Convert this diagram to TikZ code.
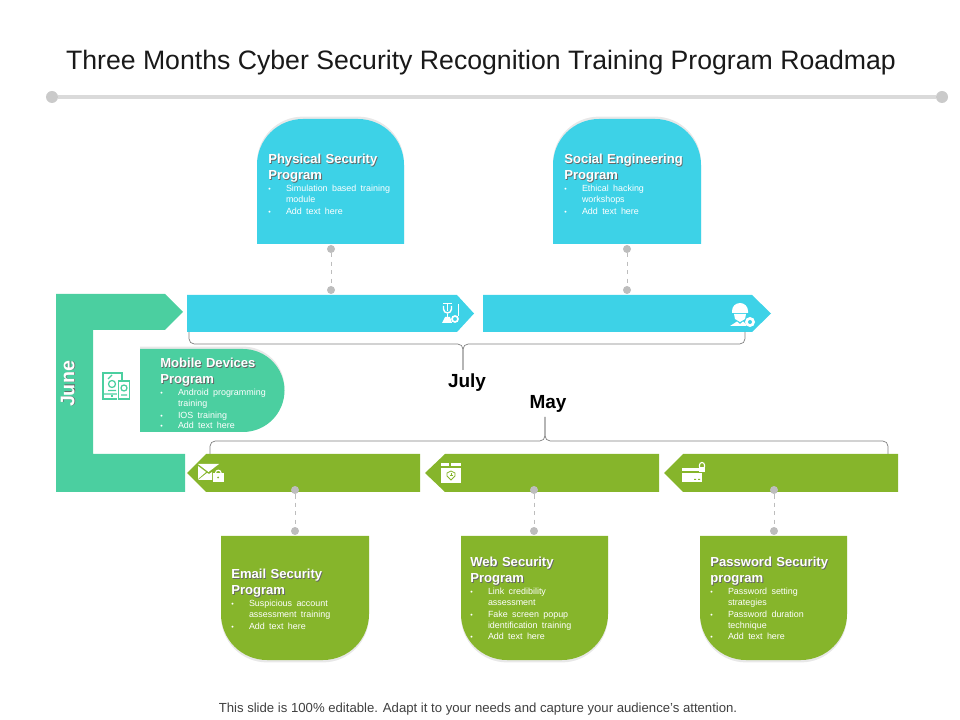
\documentclass[tikz,border=0pt]{standalone}
\usepackage{fontspec}
\setmainfont{Liberation Sans}
\usetikzlibrary{shadows}

\definecolor{skyband}{HTML}{3DD2E7}
\definecolor{tealband}{HTML}{4BCFA0}
\definecolor{greenband}{HTML}{86B52B}
\definecolor{dotgray}{HTML}{BDBDBD}
\definecolor{rulegray}{HTML}{DADADA}

\newcommand{\cardhead}[1]{\leavevmode\rlap{\raisebox{-0.6pt}{\hspace{0.6pt}\textcolor{black!60}{\bfseries #1}}}{\bfseries #1}}
\newcommand{\carditem}[1]{{\par\vskip-0.7pt\fontsize{6.35}{7.85}\selectfont\noindent\hbox to 12.6pt{\fontsize{5}{5}\selectfont\textbullet\hfil}\begin{tabular}[t]{@{}l@{}}#1\end{tabular}\par}}

\tikzset{
    connect dot/.style={circle, fill=dotgray, inner sep=0pt, minimum size=0.2cm},
    connect line/.style={draw=dotgray, dashed, line width=0.5pt},
    rule dot/.style={circle, fill=dotgray!80, inner sep=0pt, minimum size=0.3cm},
    bracket line/.style={draw=black!50, line width=0.5pt, rounded corners=0.13cm},
    card text/.style={anchor=north west, inner sep=0pt, text=white, text width=#1, align=left, font=\fontsize{9.3}{11.4}\selectfont},
    month label/.style={font=\fontsize{13.5}{16}\selectfont\bfseries, inner sep=0pt},
    card shadow/.style={drop shadow={shadow xshift=0cm, shadow yshift=#1, fill=black, opacity=0.09}}
}

\begin{document}
\begin{tikzpicture}[x=0.025cm, y=-0.025cm]
    \useasboundingbox (0, 0) rectangle (960, 720);

    % Draw title and rule
    \node (title) at (481, 62.5) [font=\fontsize{18.95}{22}\selectfont, text=black!90, inner sep=0pt] {Three Months Cyber Security Recognition Training Program Roadmap};
    \node (ruleleft) at (52, 97) [rule dot] {};
    \node (ruleright) at (942, 97) [rule dot] {};
    \draw[rulegray, line width=3pt] (ruleleft) -- (ruleright);

    % Draw june band
    \fill[tealband] (56, 294) -- (165, 294) -- (183, 312) -- (165, 330) -- (93, 330) -- (93, 454) -- (185, 454) -- (185, 492) -- (56, 492) -- cycle;
    \node (june) at (68, 384) [rotate=90, text=white, font=\fontsize{14}{16}\selectfont, inner sep=0pt] {\cardhead{June}};

    % Draw july bands
    \fill[skyband] (187, 295) -- (457, 295) -- (474, 313.5) -- (457, 332) -- (187, 332) -- cycle;
    \fill[skyband] (483, 295) -- (752, 295) -- (771, 313.5) -- (752, 332) -- (483, 332) -- cycle;

    % Draw may bands
    \fill[greenband] (187, 473) -- (206, 454) -- (420, 454) -- (420, 492) -- (206, 492) -- cycle;
    \fill[greenband] (425, 473) -- (445, 454) -- (659, 454) -- (659, 492) -- (445, 492) -- cycle;
    \fill[greenband] (664, 473) -- (683, 454) -- (898, 454) -- (898, 492) -- (683, 492) -- cycle;

    % Draw cards
    \fill[skyband, card shadow=0.06cm] (257, 244) -- (257, 165) arc (180:270:46) -- (358, 119) arc (270:360:46) -- (404, 244) -- cycle;
    \fill[skyband, card shadow=0.06cm] (553, 244) -- (553, 165) arc (180:270:46) -- (655, 119) arc (270:360:46) -- (701, 244) -- cycle;
    \fill[tealband, card shadow=0.06cm] (140, 349) -- (243, 349) arc (-90:90:41.5) -- (140, 432) -- cycle;
    \fill[greenband, card shadow=-0.06cm] (221, 536) -- (369, 536) -- (369, 614) arc (0:90:46) -- (267, 660) arc (90:180:46) -- cycle;
    \fill[greenband, card shadow=-0.06cm] (461, 536) -- (608, 536) -- (608, 614) arc (0:90:46) -- (507, 660) arc (90:180:46) -- cycle;
    \fill[greenband, card shadow=-0.06cm] (700, 536) -- (847, 536) -- (847, 614) arc (0:90:46) -- (746, 660) arc (90:180:46) -- cycle;

    % Draw card texts
    \node (physicaltext) at (268, 154) [card text=4cm] {\cardhead{Physical Security}\\\cardhead{Program}\carditem{Simulation based training\\module}\carditem{Add text here}};
    \node (socialtext) at (564, 154) [card text=4cm] {\cardhead{Social Engineering}\\\cardhead{Program}\carditem{Ethical hacking\\workshops}\carditem{Add text here}};
    \node (mobiletext) at (160, 358) [card text=4cm] {\cardhead{Mobile Devices}\\\cardhead{Program}\carditem{Android programming\\training}\carditem{IOS training}\carditem{Add text here}};
    \node (emailtext) at (231, 569) [card text=4cm] {\cardhead{Email Security}\\\cardhead{Program}\carditem{Suspicious account\\assessment training}\carditem{Add text here}};
    \node (webtext) at (470, 557) [card text=4cm] {\cardhead{Web Security}\\\cardhead{Program}\carditem{Link credibility\\assessment}\carditem{Fake screen popup\\identification training}\carditem{Add text here}};
    \node (passwordtext) at (710, 557) [card text=4cm] {\cardhead{Password Security}\\\cardhead{program}\carditem{Password setting\\strategies}\carditem{Password duration\\technique}\carditem{Add text here}};

    % Draw dots and dashed links
    \node (physicaltop) at (331, 249) [connect dot] {};
    \node (physicalbottom) at (331, 290) [connect dot] {};
    \node (socialtop) at (627, 249) [connect dot] {};
    \node (socialbottom) at (627, 290) [connect dot] {};
    \node (emailtop) at (295, 490) [connect dot] {};
    \node (emailbottom) at (295, 531) [connect dot] {};
    \node (webtop) at (534, 490) [connect dot] {};
    \node (webbottom) at (534, 531) [connect dot] {};
    \node (passwordtop) at (774, 490) [connect dot] {};
    \node (passwordbottom) at (774, 531) [connect dot] {};
    \draw[connect line] (physicaltop) -- (physicalbottom);
    \draw[connect line] (socialtop) -- (socialbottom);
    \draw[connect line] (emailtop) -- (emailbottom);
    \draw[connect line] (webtop) -- (webbottom);
    \draw[connect line] (passwordtop) -- (passwordbottom);

    % Draw brackets
    \coordinate (julyleft) at (189, 332);
    \coordinate (julyright) at (745, 332);
    \coordinate (julymid) at (463, 344);
    \coordinate (julystem) at (463, 370);
    \draw[bracket line] (julyleft) |- (julymid) -- (julystem);
    \draw[bracket line] (julyright) |- (julymid) -- (julystem);
    \coordinate (mayleft) at (210, 454);
    \coordinate (mayright) at (888, 454);
    \coordinate (maymid) at (545, 441);
    \coordinate (maystem) at (545, 417);
    \draw[bracket line] (mayleft) |- (maymid) -- (maystem);
    \draw[bracket line] (mayright) |- (maymid) -- (maystem);

    % Draw month labels
    \node (july) at (467, 383) [month label] {July};
    \node (may) at (548, 404) [month label] {May};

    % Draw pulley icon
    \draw[white, line width=0.7pt] (443, 303) -- (452, 303) (447.5, 303) -- (447.5, 311) (458, 304) -- (458, 316) (447.5, 314) -- (447.5, 318);
    \draw[white, line width=1pt] (443.5, 306) -- (443.5, 309) arc (180:0:4) -- (451.5, 306);
    \fill[white] (442, 323) -- (445, 317) -- (450, 317) -- (452, 323) -- cycle;
    \draw[white, line width=1.2pt] (455, 319) circle (3);

    % Draw worker icon
    \fill[white] (732, 311) arc (180:360:8) -- (748, 313) -- (732, 313) -- cycle;
    \fill[white] (734, 314) -- (746, 314) -- (745, 319) -- (740, 322) -- (735, 319) -- cycle;
    \fill[white] (730, 326) -- (737, 321.5) -- (740, 324) -- (743, 321.5) -- (746, 324) -- (746, 326) -- cycle;
    \fill[white] (750, 322) circle (5);
    \fill[skyband] (750, 322) circle (2);

    % Draw devices icon
    \draw[tealband, line width=1.1pt] (103, 373) rectangle (122, 399);
    \draw[tealband, line width=0.8pt] (108, 379) -- (112, 375) (103, 394) -- (118, 394);
    \fill[white] (117, 380) rectangle (131, 401);
    \draw[tealband, line width=1.1pt] (118.5, 381) rectangle (129.5, 399);
    \draw[tealband, line width=0.9pt] (112, 384) circle (3.5) (124, 388) circle (3) (108, 390.5) -- (116, 390.5) (121, 395) -- (127, 395);
    \fill[tealband] (111, 395.5) rectangle (113, 397.5);

    % Draw mail icon
    \fill[white] (198, 464) -- (219, 464) -- (208.5, 472) -- cycle;
    \fill[white] (198, 466) -- (206, 472) -- (198, 479) -- cycle;
    \fill[white] (198, 480) -- (207, 473) -- (209, 474) -- (212, 472) -- (212, 480) -- cycle;
    \fill[white] (213, 473) rectangle (223.5, 482);
    \draw[white, line width=0.8pt] (215.5, 473) arc (180:360:2.8);
    \fill[greenband] (218.2, 477.5) circle (1);

    % Draw shield icon
    \fill[white] (441, 468) rectangle (461, 483);
    \fill[white] (441, 463) rectangle (449, 466.5);
    \fill[white] (451, 463) rectangle (461, 466.5);
    \draw[greenband, line width=0.6pt] (447, 473) -- (451, 471) -- (455, 473) -- (455, 476) -- (451, 480) -- (447, 476) -- cycle;
    \draw[greenband, line width=0.5pt] (449.5, 475) -- (452.5, 475) (451, 473.5) -- (451, 476.5);

    % Draw card icon
    \fill[white] (682, 468) rectangle (702, 471);
    \fill[white] (682, 473) rectangle (702, 482);
    \fill[greenband] (694, 479) rectangle (696, 480) (698, 479) rectangle (700, 480);
    \fill[white] (699, 467) rectangle (705, 472);
    \draw[white, line width=0.8pt] (699.5, 467) -- (699.5, 465) arc (180:360:2.5) -- (704.5, 467);

    % Draw footer
    \node (footer) at (478, 709) [font=\fontsize{9.35}{11}\selectfont, text=black!75, inner sep=0pt] {This slide is 100\% editable. Adapt it to your needs and capture your audience's attention.};
\end{tikzpicture}
\end{document}
